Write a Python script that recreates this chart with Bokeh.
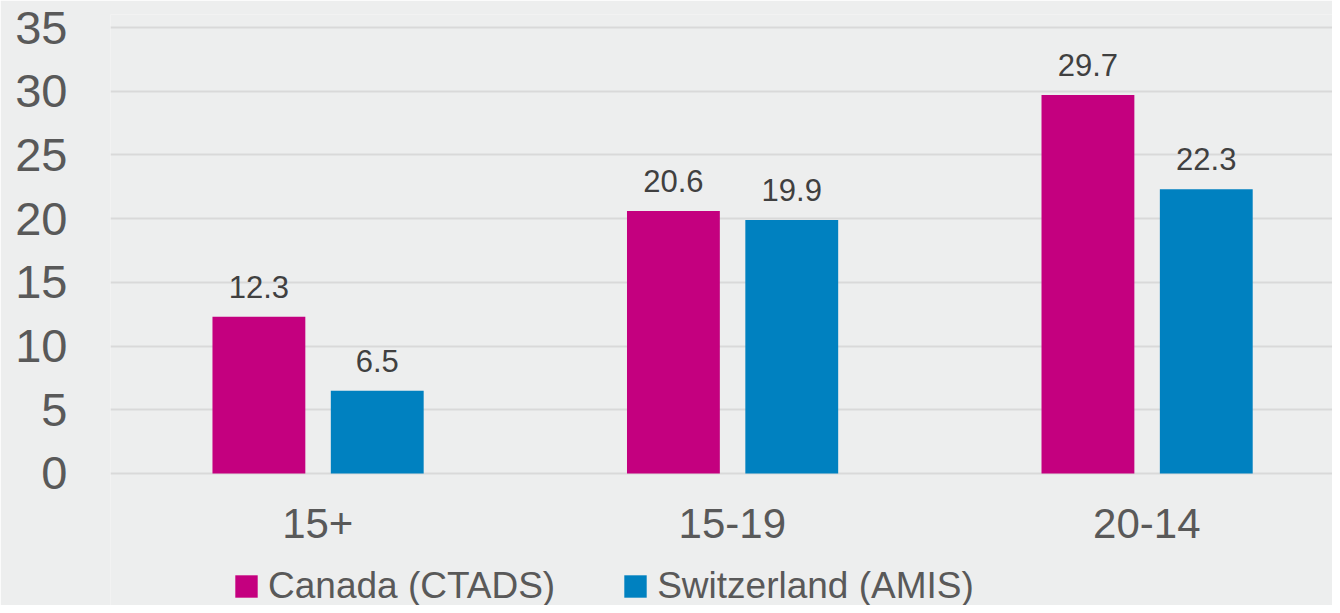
from bokeh.plotting import figure
from bokeh.models import ColumnDataSource, Range1d, FixedTicker, Legend, LegendItem
from bokeh.transform import dodge
from bokeh.core.properties import value
from bokeh.embed import file_html
from bokeh.resources import INLINE

categories = ["15+", "15-19", "20-14"]
canada = [12.3, 20.6, 29.7]
switzerland = [6.5, 19.9, 22.3]
series_names = ["Canada (CTADS)", "Switzerland (AMIS)"]
y_ticks = [0, 5, 10, 15, 20, 25, 30, 35]

BG = "#EDEEEE"
C_CAN = "#C4007F"
C_SWI = "#0081C0"
FONT = "Liberation Sans"

src = ColumnDataSource(dict(
    x=list(range(len(categories))),
    zero=[0] * len(categories),
    cat=categories,
    canada=canada,
    switzerland=switzerland,
    canada_lbl=[f"{v:.1f}" for v in canada],
    switzerland_lbl=[f"{v:.1f}" for v in switzerland],
))

p = figure(width=1332, height=605, output_backend="svg", toolbar_location=None,
           x_range=Range1d(-0.5, 2.448), y_range=Range1d(-10.36, 36.02),
           min_border_left=110, min_border_right=0, min_border_top=14, min_border_bottom=0)
p.background_fill_color = BG
p.border_fill_color = BG
p.outline_line_color = None

w = 0.224
r1 = p.vbar(x=dodge("x", -0.142, range=p.x_range), top="canada", width=w, source=src,
            fill_color=C_CAN, line_color=None)
r2 = p.vbar(x=dodge("x", 0.1435, range=p.x_range), top="switzerland", width=w, source=src,
            fill_color=C_SWI, line_color=None)

for off, fld, lbl in [(-0.142, "canada", "canada_lbl"), (0.1435, "switzerland", "switzerland_lbl")]:
    p.text(x=dodge("x", off, range=p.x_range), y=fld, text=lbl, source=src,
           text_align="center", text_baseline="alphabetic", y_offset=-30,
           text_font=value(FONT), text_font_size="31px", text_color="#404040")

# category labels under the bars
p.text(x="x", y="zero", text="cat", source=src, text_align="center",
       text_baseline="alphabetic", y_offset=50,
       text_font=value(FONT), text_font_size="42px", text_color="#595959")

p.xaxis.visible = False
p.xgrid.grid_line_color = None
p.ygrid.grid_line_color = "#D9D9D9"
p.ygrid.grid_line_width = 2
p.ygrid.ticker = FixedTicker(ticks=y_ticks)

p.yaxis.ticker = FixedTicker(ticks=y_ticks)
p.yaxis.axis_line_color = None
p.yaxis.major_tick_line_color = None
p.yaxis.minor_tick_line_color = None
p.yaxis.major_label_text_font = FONT
p.yaxis.major_label_text_font_size = "47px"
p.yaxis.major_label_text_color = "#595959"
p.yaxis.major_label_standoff = 37

legend = Legend(items=[LegendItem(label=series_names[0], renderers=[r1]),
                       LegendItem(label=series_names[1], renderers=[r2])],
                orientation="horizontal", location=(122, -2),
                background_fill_alpha=0, border_line_color=None,
                padding=0, margin=0, spacing=66,
                glyph_width=28, glyph_height=28, label_height=28, label_standoff=8,
                label_text_font=FONT, label_text_font_size="37px",
                label_text_color="#595959")
p.add_layout(legend, "center")

open("out.html", "w").write(file_html(p, INLINE))
